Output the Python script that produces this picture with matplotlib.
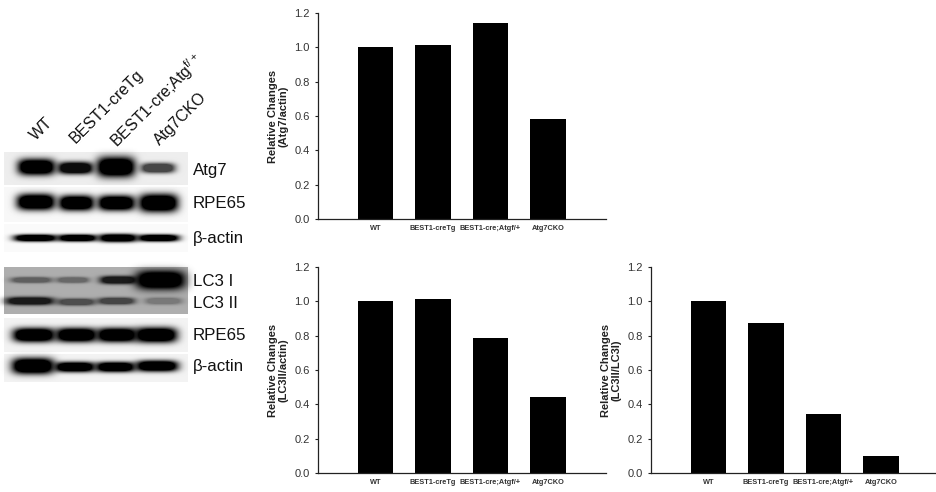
import numpy as np
import matplotlib
matplotlib.use('Agg')
import matplotlib.pyplot as plt

plt.rcParams['font.family'] = ['Liberation Sans', 'DejaVu Sans']
plt.rcParams['mathtext.fontset'] = 'custom'
plt.rcParams['mathtext.rm'] = 'Liberation Sans'

# bar data
categories = ['WT', 'BEST1-creTg', 'BEST1-cre;Atgf/+', 'Atg7CKO']
atg7_actin = [1.0, 1.015, 1.14, 0.585]
lc3ii_actin = [1.0, 1.015, 0.785, 0.44]
lc3ii_lc3i = [1.0, 0.875, 0.345, 0.10]
yticks = [0.0, 0.2, 0.4, 0.6, 0.8, 1.0, 1.2]

# lane labels of the blot
lanes = ['WT', 'BEST1-creTg', 'BEST1-cre;Atg$^{\\mathrm{f/+}}$', 'Atg7CKO']
lane_xy = [(38, 143), (78, 146), (121, 152), (162, 148)]

# blot: (x0, x1, y centre, height, strength) per band
atg7_bands = [(20, 53, 167, 13, 1.0), (60, 91, 168, 9, 0.95), (99, 133, 167, 17, 1.0), (143, 173, 168, 7, 0.7)]
rpe1_bands = [(19, 53, 202, 13, 1.0), (61, 92, 203, 12, 1.0), (100, 133, 203, 12, 1.0), (141, 176, 203, 15, 1.0)]
actin1_bands = [(16, 55, 238, 4, 1.0), (60, 95, 238, 4, 1.0), (101, 135, 238, 5, 1.0), (140, 177, 238, 4, 1.0)]
lc3i_bands = [(13, 50, 280, 3, 0.45), (59, 87, 280, 3, 0.4), (102, 135, 280, 5, 0.85), (138, 183, 280, 16, 1.0)]
lc3ii_bands = [(8, 52, 301, 5, 0.85), (60, 93, 302, 4, 0.55), (100, 133, 301, 4, 0.6), (147, 180, 301, 4, 0.3)]
rpe2_bands = [(15, 53, 335, 11, 1.0), (58, 95, 335, 11, 1.0), (99, 135, 335, 11, 1.0), (137, 175, 335, 12, 1.0)]
actin2_bands = [(14, 52, 366, 13, 1.0), (57, 93, 367, 7, 1.0), (98, 133, 367, 7, 1.0), (138, 176, 366, 8, 1.0)]

# blot backgrounds: (x0, x1, y0, y1, gray)
blot_panels = [(4, 188, 152, 185, 0.93), (4, 188, 187, 222, 0.97), (4, 188, 224, 252, 0.98),
               (4, 188, 267, 314, 0.68), (4, 188, 318, 352, 0.95), (4, 188, 354, 382, 0.95)]


def band_layer(xx, yy, band):
    # soft edged blob with a saturated core, the ends come out rounded
    x0, x1, yc, h, s = band
    xc = (x0 + x1) / 2.0
    r = (np.abs(xx - xc) / ((x1 - x0) / 2.0 + 2.0))**4 + (np.abs(yy - yc) / (h / 2.0 + 1.5))**2.5
    return s * np.minimum(1.0, 1.6 * np.exp(-r))


def make_blot():
    xx, yy = np.meshgrid(np.arange(0, 200) + 0.5, np.arange(140, 400) + 0.5)
    img = np.ones_like(xx)
    for x0, x1, y0, y1, gray in blot_panels:
        inside = (xx >= x0) & (xx < x1) & (yy >= y0) & (yy < y1)
        img[inside] = gray
    for bands in [atg7_bands, rpe1_bands, actin1_bands, lc3i_bands, lc3ii_bands, rpe2_bands, actin2_bands]:
        for b in bands:
            img = img * (1 - band_layer(xx, yy, b))
    return img


def bar_chart(left, top, right, bottom, values, ylabel):
    w = 936.0
    h = 492.0
    ax = fig.add_axes([left / w, 1 - bottom / h, (right - left) / w, (bottom - top) / h])
    ax.bar(range(1, 5), values, width=0.62, color='black')
    ax.set_xlim(0, 5)
    ax.set_ylim(0, 1.2)
    ax.set_xticks(range(1, 5))
    ax.set_xticklabels(categories, fontsize=5.3, fontweight='bold', color='#333333')
    ax.set_yticks(yticks)
    ax.set_yticklabels(['%.1f' % t for t in yticks], fontsize=8, color='#333333')
    ax.tick_params(axis='x', length=0, pad=4)
    ax.tick_params(axis='y', length=2, width=0.8, pad=4, direction='out', color='#222222')
    ax.spines['top'].set_visible(False)
    ax.spines['right'].set_visible(False)
    ax.spines['left'].set_linewidth(0.9)
    ax.spines['bottom'].set_linewidth(0.9)
    ax.spines['left'].set_color('#222222')
    ax.spines['bottom'].set_color('#222222')
    ax.set_ylabel(ylabel, fontsize=8, fontweight='bold', labelpad=4, linespacing=1.05, color='#222222')
    return ax


fig = plt.figure(figsize=(9.36, 4.92), dpi=100)

bg = fig.add_axes([0, 0, 1, 1])
bg.axis('off')
bg.imshow(make_blot(), cmap='gray', vmin=0, vmax=1, extent=(0, 200, 400, 140), aspect='auto', interpolation='bilinear')
bg.set_xlim(0, 936)
bg.set_ylim(492, 0)

for name, (x, y) in zip(lanes, lane_xy):
    bg.text(x, y, name, rotation=45, rotation_mode='anchor', ha='left', va='bottom', fontsize=11.5, color='#111111')

blot_names = ['Atg7', 'RPE65', '\u03b2-actin', 'LC3 I', 'LC3 II', 'RPE65', '\u03b2-actin']
blot_name_y = [170, 203, 238, 281, 303, 336, 366]
for name, y in zip(blot_names, blot_name_y):
    bg.text(193, y, name, ha='left', va='center', fontsize=12.2, color='#111111')

bar_chart(318, 13, 605.5, 219, atg7_actin, 'Relative Changes\n(Atg7/actin)')
bar_chart(318, 267, 605.5, 473, lc3ii_actin, 'Relative Changes\n(LC3II/actin)')
bar_chart(651, 267, 938.5, 473, lc3ii_lc3i, 'Relative Changes\n(LC3II/LC3I)')

fig.savefig('out.png', dpi=100)
